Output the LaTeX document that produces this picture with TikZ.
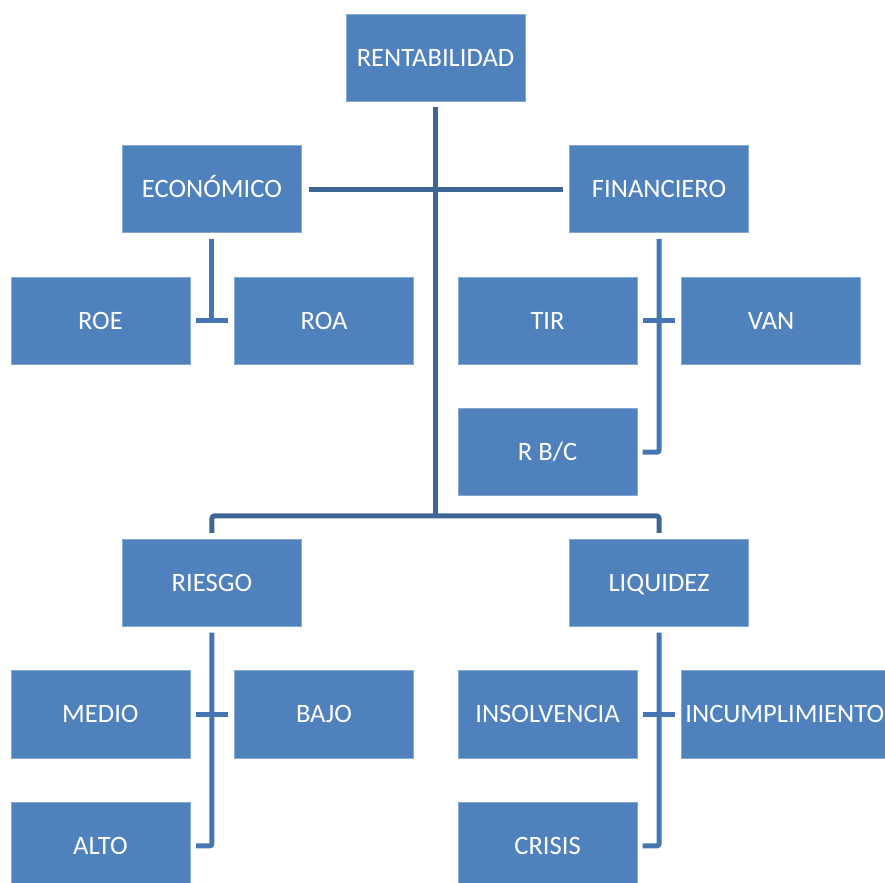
\documentclass[tikz,border=0pt]{standalone}
\usepackage{fontspec}
\setmainfont{Carlito}
\usetikzlibrary{positioning}

\definecolor{boxblue}{RGB}{79,129,189}
\definecolor{boxedge}{RGB}{135,168,210}
\definecolor{trunkblue}{RGB}{61,101,150}
\definecolor{branchblue}{RGB}{70,118,178}

\begin{document}
\begin{tikzpicture}[
    node distance=1.164cm and 1.164cm,
    mainbox/.style={rectangle, fill=boxblue, draw=boxedge, line width=0.4pt, minimum width=4.736cm, minimum height=2.302cm, inner sep=0.1cm, text height=12.9pt, text depth=0pt, align=center, text=white, font=\fontsize{20}{24}\selectfont},
    mainline/.style={draw=trunkblue, line width=3.75pt, rounded corners=2pt},
    subline/.style={draw=branchblue, line width=3.75pt, rounded corners=1.5pt}
]

\useasboundingbox (-11.52,1.52) rectangle (11.89,-21.82);

% ============ TOP ============
\node[mainbox] (rent) {RENTABILIDAD};
\node[mainbox, below left=1.164cm and 1.164cm of rent] (econ) {ECONÓMICO};
\node[mainbox, below right=1.164cm and 1.164cm of rent] (fin) {FINANCIERO};

% ECONOMICO
\node[mainbox, below=1.164cm of econ, xshift=-2.95cm] (roe) {ROE};
\node[mainbox, right=1.164cm of roe] (roa) {ROA};

% FINANCIERO
\node[mainbox, below=1.164cm of fin, xshift=-2.95cm] (tir) {TIR};
\node[mainbox, right=1.164cm of tir] (van) {VAN};
\node[mainbox, below=1.164cm of tir] (rbc) {R B/C};

% ============ BOTTOM ============
\node[mainbox, below=8.097cm of econ] (riesgo) {RIESGO};
\node[mainbox, below=8.097cm of fin] (liq) {LIQUIDEZ};

% RIESGO
\node[mainbox, below=1.164cm of riesgo, xshift=-2.95cm] (medio) {MEDIO};
\node[mainbox, right=1.164cm of medio] (bajo) {BAJO};
\node[mainbox, below=1.164cm of medio] (alto) {ALTO};

% LIQUIDEZ
\node[mainbox, below=1.164cm of liq, xshift=-2.95cm] (insolv) {INSOLVENCIA};
\node[mainbox, right=1.164cm of insolv] (incumpl) {INCUMPLIMIENTO};
\node[mainbox, below=1.164cm of insolv] (crisis) {CRISIS};

% ============ CONNECTIONS ============
\coordinate (bus) at ([yshift=0.61cm]riesgo.north);
\draw[mainline] ([yshift=-0.16cm]rent.south) -- (rent.south |- bus);
\draw[mainline] ([xshift=0.18cm]econ.east) -- ([xshift=-0.16cm]fin.west);
\draw[mainline] ([yshift=0.16cm]riesgo.north) -- (bus) -| ([yshift=0.16cm]liq.north);

\draw[subline] ([yshift=-0.16cm]econ.south) -- (econ.south |- roe.east);
\draw[subline] ([xshift=0.16cm]roe.east) -- ([xshift=-0.16cm]roa.west);

\draw[subline] ([yshift=-0.16cm]fin.south) |- ([xshift=0.14cm]rbc.east);
\draw[subline] ([xshift=0.14cm]tir.east) -- ([xshift=-0.16cm]van.west);

\draw[subline] ([yshift=-0.16cm]riesgo.south) |- ([xshift=0.16cm]alto.east);
\draw[subline] ([xshift=0.16cm]medio.east) -- ([xshift=-0.16cm]bajo.west);

\draw[subline] ([yshift=-0.16cm]liq.south) |- ([xshift=0.14cm]crisis.east);
\draw[subline] ([xshift=0.14cm]insolv.east) -- ([xshift=-0.16cm]incumpl.west);

\end{tikzpicture}
\end{document}
